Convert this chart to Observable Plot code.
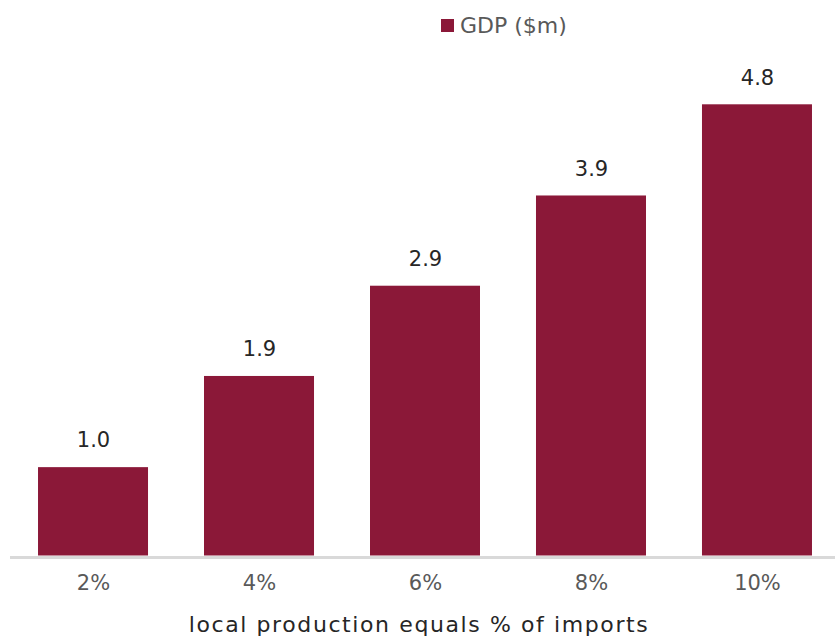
<!DOCTYPE html>
<html>
<head>
<meta charset="utf-8">
<script src="https://cdn.jsdelivr.net/npm/d3@7"></script>
<script src="https://cdn.jsdelivr.net/npm/@observablehq/plot@0.6"></script>
<style>
  html, body { margin: 0; padding: 0; background: #fff; }
  body { width: 835px; height: 636px; overflow: hidden; font-family: "DejaVu Sans", sans-serif; }
  #legend { height: 48px; position: relative; }
  #legend .item { position: absolute; left: 441px; top: 13px; display: flex; align-items: center; color: #595959; font-size: 22px; }
  #legend .sw { width: 13px; height: 13px; margin-right: 6px; }
</style>
</head>
<body>
<div id="legend"></div>
<div id="chart"></div>
<script>
const categories = ["2%", "4%", "6%", "8%", "10%"];
const gdp = [0.94, 1.91, 2.87, 3.83, 4.8];
const valueLabels = ["1.0", "1.9", "2.9", "3.9", "4.8"];
const seriesName = "GDP ($m)";
const xTitle = "local production equals % of imports";
const barColor = "#8B1838";

const data = categories.map((c, i) => ({cat: c, value: gdp[i], label: valueLabels[i]}));

const legend = document.getElementById("legend");
legend.innerHTML = `<div class="item"><span class="sw" style="background:${barColor}"></span><span>${seriesName}</span></div>`;

const chart = Plot.plot({
  width: 835,
  height: 588,
  marginLeft: 10,
  marginRight: 0,
  marginTop: 37.5,
  marginBottom: 80.5,
  style: {fontFamily: "DejaVu Sans, sans-serif", background: "#fff"},
  x: {domain: categories, range: [9.8, 840.2], paddingInner: 0.3373, paddingOuter: 0.17, round: false, label: null},
  y: {domain: [0, 5], axis: null},
  marks: [
    Plot.ruleY([0], {stroke: "#d9d9d9", strokeWidth: 3, dy: 1.5}),
    Plot.barY(data, {x: "cat", y: "value", fill: barColor}),
    Plot.text(data, {x: "cat", y: "value", text: "label", dy: -27, fill: "#262626", fontSize: 21}),
    Plot.axisX({tickSize: 0, tickPadding: 19, fontSize: 21, color: "#595959", label: null}),
    Plot.text([xTitle], {frameAnchor: "bottom", lineAnchor: "middle", dy: 68.5, dx: -4, fill: "#262626", fontSize: 22})
  ]
});
d3.select(chart).selectAll("text").filter(function() { return this.textContent === xTitle; })
  .style("letter-spacing", "1.6px");
document.getElementById("chart").appendChild(chart);
</script>
</body>
</html>
